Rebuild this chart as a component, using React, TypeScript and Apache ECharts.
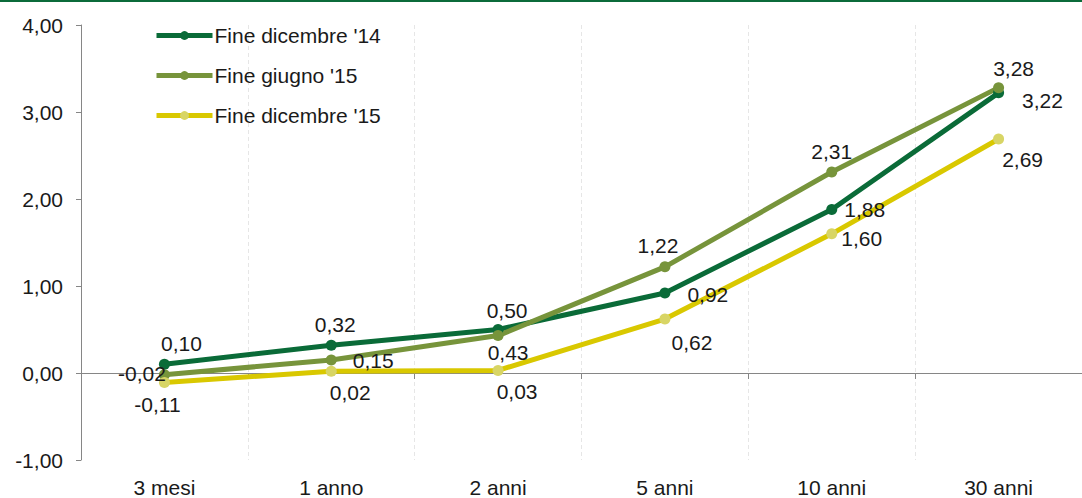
import React, { useEffect, useRef } from "react";
import * as echarts from "echarts";

// Scadenze della curva dei rendimenti
const categories = ["3 mesi", "1 anno", "2 anni", "5 anni", "10 anni", "30 anni"];

// Rendimenti (%) per data di rilevazione
const dic14 = [0.1, 0.32, 0.5, 0.92, 1.88, 3.22];
const giu15 = [-0.02, 0.15, 0.43, 1.22, 2.31, 3.28];
const dic15 = [-0.11, 0.02, 0.03, 0.62, 1.6, 2.69];

const seriesNames = ["Fine dicembre '14", "Fine giugno '15", "Fine dicembre '15"];

// Tick dell'asse verticale
const yMin = -1;
const yMax = 4;
const yStep = 1;

type Place = { position: string; distance?: number; offset?: [number, number] };

// Collocazione delle etichette dei valori per ciascun punto
const placeDic14: Place[] = [
  { position: "top", offset: [17, 0] },
  { position: "top", offset: [4, 0] },
  { position: "top", offset: [9, 2] },
  { position: "right", distance: 17, offset: [0, 2] },
  { position: "right", distance: 7, offset: [0, 0] },
  { position: "right", distance: 18, offset: [0, 8] },
];
const placeGiu15: Place[] = [
  { position: "left", distance: 0, offset: [7, -1] },
  { position: "right", distance: 16, offset: [0, 1] },
  { position: "bottom", offset: [10, -4] },
  { position: "top", offset: [-7, 0] },
  { position: "top", offset: [0, 0] },
  { position: "top", offset: [15, 2] },
];
const placeDic15: Place[] = [
  { position: "bottom", offset: [-7, 1] },
  { position: "bottom", offset: [19, 0] },
  { position: "bottom", offset: [19, 0] },
  { position: "bottom", offset: [27, 2] },
  { position: "right", distance: 4, offset: [0, 5] },
  { position: "bottom", offset: [24, 0] },
];

const FONT = "'Liberation Sans', Arial, sans-serif";
const FS = 21;
const fmt = (v: number) => v.toFixed(2).replace(".", ",");

function buildSeries(
  name: string,
  values: number[],
  places: Place[],
  lineColor: string,
  dotColor: string
) {
  return {
    name,
    type: "line",
    xAxisIndex: 0,
    data: values.map((v, i) => ({
      value: v,
      label: {
        position: places[i].position,
        distance: places[i].distance ?? 5,
        offset: places[i].offset ?? [0, 0],
      },
    })),
    symbol: "circle",
    symbolSize: 11,
    lineStyle: { color: lineColor, width: 5 },
    itemStyle: { color: dotColor },
    label: {
      show: true,
      formatter: (p: any) => fmt(p.value),
      color: "#1a1a1a",
      fontFamily: FONT,
      fontSize: FS,
    },
    emphasis: { disabled: true },
  };
}

export default function App() {
  const ref = useRef<HTMLDivElement>(null);

  useEffect(() => {
    if (!ref.current) return;
    const chart = echarts.init(ref.current, undefined, { renderer: "svg" });
    chart.setOption({
      animation: false,
      backgroundColor: "#ffffff",
      textStyle: { fontFamily: FONT },
      graphic: [
        {
          type: "rect",
          left: 0,
          top: 0,
          shape: { width: 1082, height: 2 },
          style: { fill: "#0b6b3a" },
        },
      ],
      legend: {
        orient: "vertical",
        left: 154,
        top: 25,
        itemWidth: 56,
        itemHeight: 11,
        itemGap: 19,
        padding: 0,
        data: seriesNames,
        lineStyle: { width: 5 },
        textStyle: { fontFamily: FONT, fontSize: FS, color: "#1a1a1a", padding: [0, 0, 0, -3] },
      },
      grid: { left: 81, top: 25, height: 435, width: 1014, containLabel: false },
      xAxis: [
        {
          type: "category",
          data: categories,
          position: "bottom",
          boundaryGap: true,
          axisLine: { show: false, onZero: false },
          axisTick: { show: false },
          axisLabel: { margin: 17, fontFamily: FONT, fontSize: FS, color: "#1a1a1a" },
          splitLine: {
            show: true,
            lineStyle: { color: "#e6e6e6", type: [4, 3], width: 1 },
          },
        },
        {
          type: "category",
          data: categories,
          boundaryGap: true,
          axisLine: { show: true, onZero: true, lineStyle: { color: "#868686", width: 1 } },
          axisTick: { show: true, inside: true, length: 6, lineStyle: { color: "#868686" } },
          axisLabel: { show: false },
          splitLine: { show: false },
        },
      ],
      yAxis: {
        type: "value",
        min: yMin,
        max: yMax,
        interval: yStep,
        axisLine: { show: true, lineStyle: { color: "#868686", width: 1 } },
        axisTick: { show: true, length: 5, lineStyle: { color: "#868686" } },
        axisLabel: {
          margin: 18,
          fontFamily: FONT,
          fontSize: FS,
          color: "#1a1a1a",
          formatter: (v: number) => fmt(v),
        },
        splitLine: { show: false },
      },
      series: [
        buildSeries(seriesNames[0], dic14, placeDic14, "#0a6b38", "#0a6b38"),
        buildSeries(seriesNames[1], giu15, placeGiu15, "#77943b", "#77943b"),
        buildSeries(seriesNames[2], dic15, placeDic15, "#d9c800", "#d8d565"),
      ],
    });
    return () => chart.dispose();
  }, []);

  return (
    <div
      ref={ref}
      style={{ position: "fixed", left: 0, top: 0, width: 1082, height: 498 }}
    />
  );
}
